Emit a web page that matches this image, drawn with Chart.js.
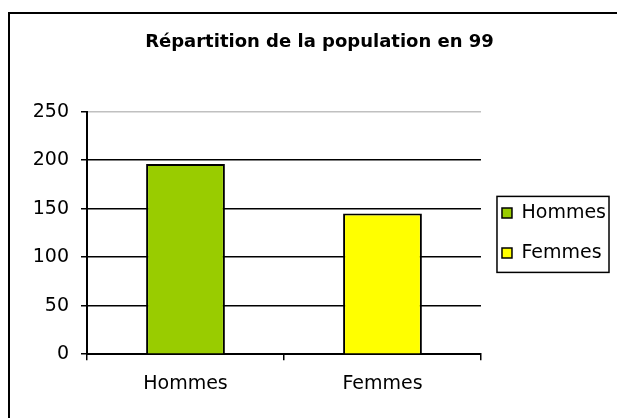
<!DOCTYPE html>
<html>
<head>
<meta charset="utf-8">
<script src="https://cdn.jsdelivr.net/npm/chart.js@4.4.1/dist/chart.umd.min.js"></script>
<style>
    html, body { margin: 0; padding: 0; background: #fff; overflow: hidden; }
    #wrap { position: relative; width: 617px; height: 418px; }
    #cadre {
        position: absolute; left: 8px; top: 12px; width: 700px; height: 500px;
        border-top: 2px solid #000; border-left: 2px solid #000; pointer-events: none;
    }
    canvas { position: absolute; left: 0; top: 0; }
</style>
</head>
<body>
<div id="wrap">
    <canvas id="chartPop" width="617" height="418"></canvas>
    <div id="cadre"></div>
</div>
<script>
/* ============================
   Données
============================ */
const categories = ["Hommes", "Femmes"];
const population = [196, 145];
const barColors = ["#99CC00", "#FFFF00"];
const yMax = 250;
const yStep = 50;

const FONT = "'DejaVu Sans', Arial, sans-serif";

/* ============================
   Cadre de la légende
============================ */
const legendBox = {
    id: "legendBox",
    afterDraw(chart) {
        const lg = chart.legend;
        if (!lg || !lg.legendHitBoxes || !lg.legendHitBoxes.length) return;
        const hb = lg.legendHitBoxes;
        const first = hb[0], last = hb[hb.length - 1];
        const x0 = first.left - 5;
        const y0 = first.top - 7;
        const x1 = 609;
        const y1 = last.top + last.height + 10;
        const ctx = chart.ctx;
        ctx.save();
        ctx.strokeStyle = "#000";
        ctx.lineWidth = 1.5;
        ctx.strokeRect(x0, y0, x1 - x0, y1 - y0);
        ctx.restore();
    }
};

/* ============================
   Graphique
============================ */
new Chart(document.getElementById("chartPop").getContext("2d"), {
    type: "bar",
    data: {
        labels: categories,
        datasets: [{
            label: "Population",
            data: population,
            backgroundColor: barColors,
            borderColor: "#000",
            borderWidth: 2,
            categoryPercentage: 1,
            barPercentage: 0.4
        }]
    },
    options: {
        responsive: false,
        animation: false,
        layout: { padding: { left: 23, right: 1, top: 0, bottom: 11 } },
        plugins: {
            title: {
                display: true,
                text: "Répartition de la population en 99",
                color: "#000",
                font: { family: FONT, size: 18, weight: "bold" },
                padding: { top: 32, bottom: 58 }
            },
            legend: {
                position: "right",
                fullSize: false,
                labels: {
                    color: "#000",
                    font: { family: FONT, size: 19 },
                    boxWidth: 10,
                    boxHeight: 10,
                    padding: 21,
                    generateLabels: (chart) => chart.data.labels.map((l, i) => ({
                        text: l,
                        fillStyle: barColors[i],
                        strokeStyle: "#000",
                        lineWidth: 1.5,
                        fontColor: "#000",
                        index: i
                    }))
                }
            },
            tooltip: { enabled: false }
        },
        scales: {
            x: {
                grid: { offset: true, drawOnChartArea: false, color: "#000", tickColor: "#000", tickLength: 6, lineWidth: 1.5 },
                border: { color: "#000", width: 2 },
                ticks: { color: "#000", font: { family: FONT, size: 19 }, padding: 12 }
            },
            y: {
                min: 0,
                max: yMax,
                afterFit: (s) => { s.width = 64; },
                grid: {
                    color: (c) => (c.tick && c.tick.value === yMax ? "#c0c0c0" : "#000"),
                    tickColor: "#000",
                    tickLength: 6,
                    lineWidth: 1.5
                },
                border: { color: "#000", width: 2 },
                ticks: { stepSize: yStep, color: "#000", font: { family: FONT, size: 19 }, padding: 12 }
            }
        }
    },
    plugins: [legendBox]
});
</script>
</body>
</html>
